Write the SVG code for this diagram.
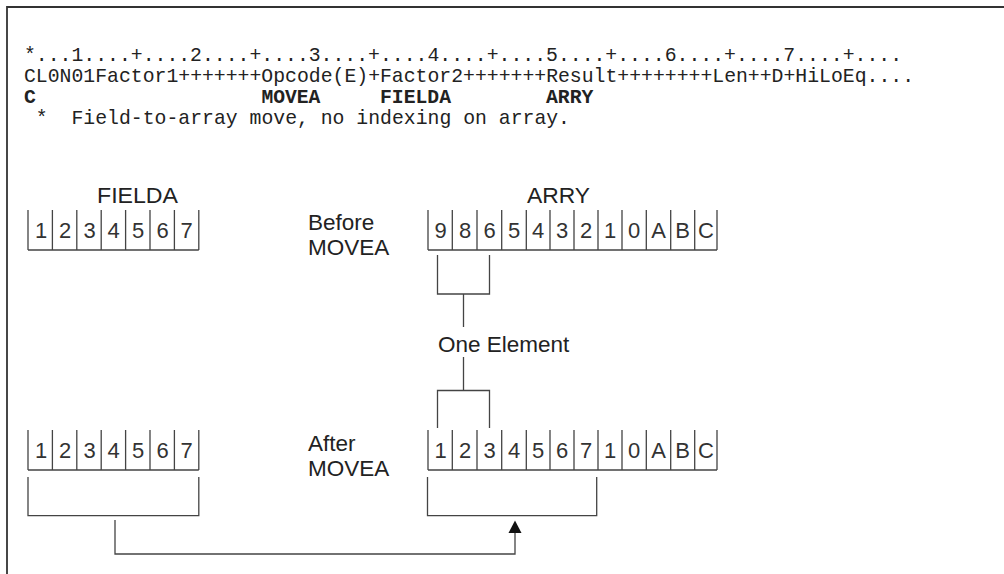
<svg xmlns="http://www.w3.org/2000/svg" width="1004" height="574" viewBox="0 0 1004 574">
<style>
.mono{font-family:"Liberation Mono","DejaVu Sans Mono",monospace;font-size:21px;fill:#222}
.b{font-weight:bold}
.lbl{font-family:"Liberation Sans",Arial,sans-serif;font-size:22.5px;fill:#222}
.cell{font-family:"Liberation Sans",Arial,sans-serif;font-size:22px;fill:#333;text-anchor:middle}
.ln{stroke:#444;stroke-width:1.3;fill:none}
.frame{stroke:#333;stroke-width:1.8;fill:none}
.head{fill:#111}
</style>
<rect width="1004" height="574" fill="#fff"/>
<path class="frame" d="M7,574 L7,7 L1004,7"/>
<g id="code">
<text class="mono" x="24" y="61" textLength="878" lengthAdjust="spacingAndGlyphs">*...1....+....2....+....3....+....4....+....5....+....6....+....7....+....</text>
<text class="mono" x="24" y="82" textLength="890" lengthAdjust="spacingAndGlyphs">CL0N01Factor1+++++++Opcode(E)+Factor2+++++++Result++++++++Len++D+HiLoEq....</text>
<text class="mono b" y="103"><tspan x="24" textLength="11.9" lengthAdjust="spacingAndGlyphs">C</tspan><tspan x="261.4" textLength="59" lengthAdjust="spacingAndGlyphs">MOVEA</tspan><tspan x="380" textLength="71" lengthAdjust="spacingAndGlyphs">FIELDA</tspan><tspan x="546" textLength="47.5" lengthAdjust="spacingAndGlyphs">ARRY</tspan></text>
<text class="mono" x="24" y="124" textLength="546" lengthAdjust="spacingAndGlyphs" xml:space="preserve"> *  Field-to-array move, no indexing on array.</text>
</g>
<g id="labels">
<text class="lbl" x="97" y="203" textLength="81" lengthAdjust="spacingAndGlyphs">FIELDA</text>
<text class="lbl" x="527" y="203" textLength="63" lengthAdjust="spacingAndGlyphs">ARRY</text>
<text class="lbl" x="308" y="230">Before</text>
<text class="lbl" x="308" y="255">MOVEA</text>
<text class="lbl" x="308" y="451">After</text>
<text class="lbl" x="308" y="476">MOVEA</text>
<text class="lbl" x="438" y="352">One Element</text>
</g>
<g id="fielda-before">
<path class="ln" d="M28,250 H198.8 M28,210 V250 M52.4,210 V250 M76.8,210 V250 M101.2,210 V250 M125.6,210 V250 M150,210 V250 M174.4,210 V250 M198.8,210 V250"/>
<g class="cell"><text x="41" y="238">1</text><text x="65" y="238">2</text><text x="89.5" y="238">3</text><text x="113.5" y="238">4</text><text x="138" y="238">5</text><text x="162.5" y="238">6</text><text x="186.5" y="238">7</text></g>
</g>
<g id="arry-before">
<path class="ln" d="M428,250 H717 M428,210 V250 M452.3,210 V250 M477,210 V250 M501.7,210 V250 M526.3,210 V250 M550,210 V250 M574,210 V250 M598,210 V250 M622,210 V250 M646.3,210 V250 M670.7,210 V250 M694.7,210 V250 M717,210 V250"/>
<g class="cell"><text x="440.5" y="238">9</text><text x="465" y="238">8</text><text x="489.5" y="238">6</text><text x="514" y="238">5</text><text x="538" y="238">4</text><text x="562" y="238">3</text><text x="586" y="238">2</text><text x="610" y="238">1</text><text x="634" y="238">0</text><text x="658.5" y="238">A</text><text x="682.7" y="238">B</text><text x="706" y="238">C</text></g>
</g>
<g id="fielda-after">
<path class="ln" d="M28,470 H198.8 M28,430 V470 M52.4,430 V470 M76.8,430 V470 M101.2,430 V470 M125.6,430 V470 M150,430 V470 M174.4,430 V470 M198.8,430 V470"/>
<g class="cell"><text x="41" y="458">1</text><text x="65" y="458">2</text><text x="89.5" y="458">3</text><text x="113.5" y="458">4</text><text x="138" y="458">5</text><text x="162.5" y="458">6</text><text x="186.5" y="458">7</text></g>
</g>
<g id="arry-after">
<path class="ln" d="M428,470 H717 M428,430 V470 M452.3,430 V470 M477,430 V470 M501.7,430 V470 M526.3,430 V470 M550,430 V470 M574,430 V470 M598,430 V470 M622,430 V470 M646.3,430 V470 M670.7,430 V470 M694.7,430 V470 M717,430 V470"/>
<g class="cell"><text x="440.5" y="458">1</text><text x="465" y="458">2</text><text x="489.5" y="458">3</text><text x="514" y="458">4</text><text x="538" y="458">5</text><text x="562" y="458">6</text><text x="586" y="458">7</text><text x="610" y="458">1</text><text x="634" y="458">0</text><text x="658.5" y="458">A</text><text x="682.7" y="458">B</text><text x="706" y="458">C</text></g>
</g>
<g id="connectors">
<path class="ln" d="M437.5,255 V294 H489.5 V255 M463.5,294 V327"/>
<path class="ln" d="M463.5,357 V390.5 M437.5,428 V390.5 H489.5 V428"/>
<path class="ln" d="M28,477 V515.7 H198.8 V477"/>
<path class="ln" d="M427.5,477 V515.7 H596.7 V477"/>
<path class="ln" d="M115,520 V554 H515 V532"/>
<polygon class="head" points="515,520.5 521.5,533 508.5,533"/>
</g>
</svg>
